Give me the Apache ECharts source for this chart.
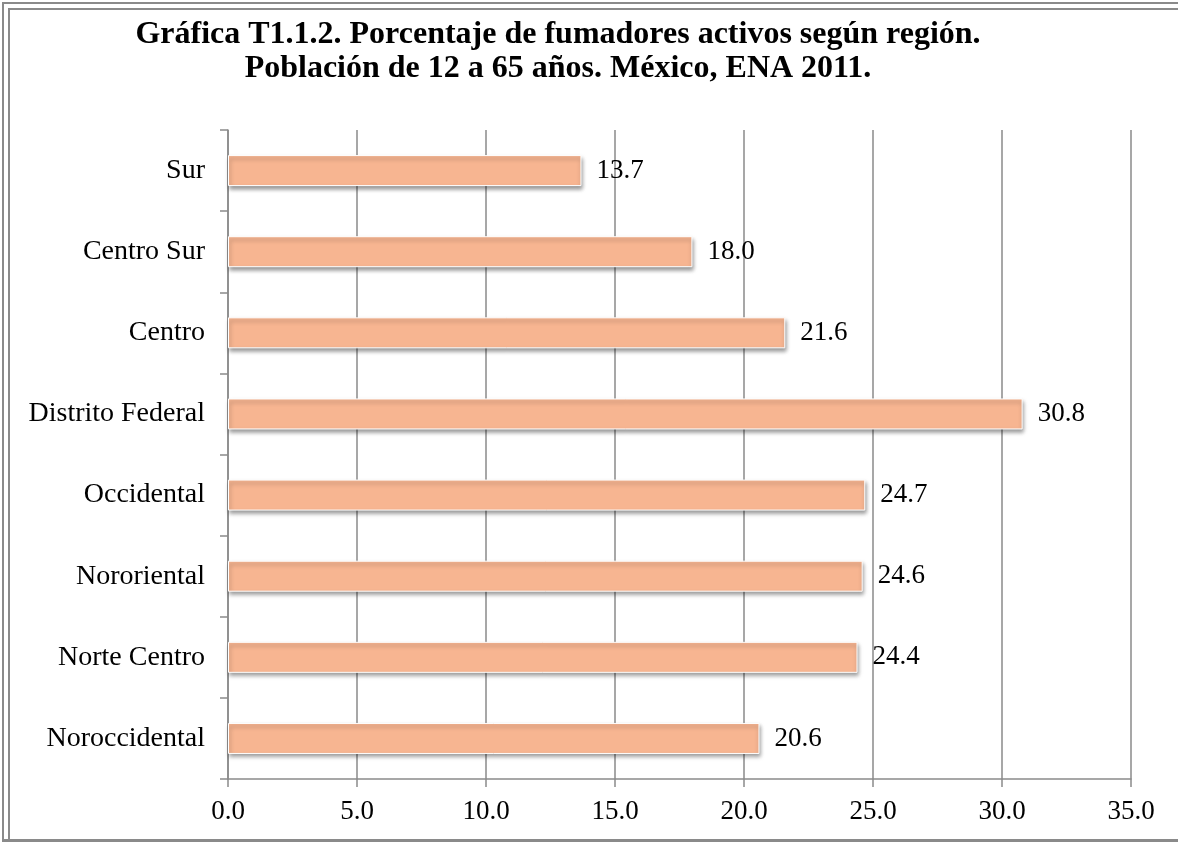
<!DOCTYPE html>
<html>
<head>
<meta charset="utf-8">
<script src="https://cdn.jsdelivr.net/npm/echarts@6/dist/echarts.min.js"></script>
<style>
  html, body { margin: 0; padding: 0; background: #fff; overflow: hidden; }
  #wrap { position: relative; width: 1178px; height: 842px; overflow: hidden; }
  .ln { position: absolute; background: #8a8a8a; }
  #chart { position: absolute; left: 0; top: 0; width: 1178px; height: 842px; }
</style>
</head>
<body>
<div id="wrap">
  <!-- marco doble: izquierda y arriba; abajo una línea -->
  <div class="ln" style="left:2px; top:2px; width:1176px; height:2px"></div>
  <div class="ln" style="left:2px; top:2px; width:2px; height:840px"></div>
  <div class="ln" style="left:8px; top:8px; width:1170px; height:2px"></div>
  <div class="ln" style="left:8px; top:8px; width:2px; height:834px"></div>
  <div class="ln" style="left:2px; top:839px; width:1176px; height:3px"></div>
  <div id="chart"></div>
</div>
<script>
// regiones, de abajo hacia arriba
const regiones = ['Noroccidental', 'Norte Centro', 'Nororiental', 'Occidental', 'Distrito Federal', 'Centro', 'Centro Sur', 'Sur']
const porcentajes = [20.6, 24.4, 24.6, 24.7, 30.8, 21.6, 18.0, 13.7]
const titulo = 'Gráfica T1.1.2. Porcentaje de fumadores activos según región.\nPoblación de 12 a 65 años. México, ENA 2011.'

const serif = '"Liberation Serif", "DejaVu Serif", serif'
const chart = echarts.init(document.getElementById('chart'), null, { renderer: 'canvas' })

chart.setOption({
  animation: false,
  title: {
    text: titulo,
    left: 553,
    top: 13,
    textAlign: 'center',
    textStyle: { fontFamily: serif, fontWeight: 'bold', fontSize: 32, color: '#000', lineHeight: 34, align: 'center' }
  },
  grid: { left: 228, right: 47, top: 130, bottom: 63 },
  xAxis: {
    type: 'value',
    min: 0, max: 35, interval: 5,
    axisLine: { show: true, lineStyle: { color: '#8a8a8a', width: 1.5 } },
    axisTick: { show: true, length: 8, inside: false, lineStyle: { color: '#8a8a8a', width: 1.5 } },
    axisLabel: { color: '#000', fontFamily: serif, fontSize: 27, margin: 19, formatter: v => v.toFixed(1) },
    splitLine: { show: true, lineStyle: { color: '#8a8a8a', width: 1.5 } }
  },
  yAxis: {
    type: 'category',
    data: regiones,
    axisLine: { show: true, lineStyle: { color: '#8a8a8a', width: 1.5 } },
    axisTick: { show: true, length: 8, alignWithLabel: false, lineStyle: { color: '#8a8a8a', width: 1.5 } },
    axisLabel: { color: '#000', fontFamily: serif, fontSize: 28, margin: 23 },
    splitLine: { show: false }
  },
  series: [{
    type: 'bar',
    data: porcentajes,
    barWidth: 31,
    itemStyle: {
      color: '#f7b591',
      borderColor: '#ffffff',
      borderWidth: 1,
      shadowColor: 'rgba(0,0,0,0.4)',
      shadowBlur: 4,
      shadowOffsetX: 1,
      shadowOffsetY: 3
    },
    label: {
      show: true,
      position: 'right',
      distance: 15,
      color: '#000',
      fontFamily: serif,
      fontSize: 27,
      formatter: p => p.value.toFixed(1)
    }
  }]
})
</script>
</body>
</html>
